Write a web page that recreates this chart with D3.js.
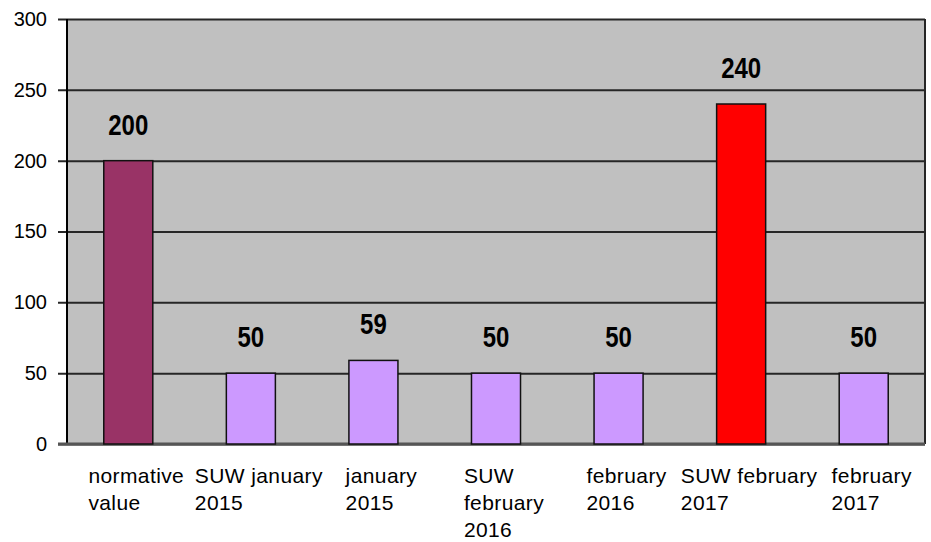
<!DOCTYPE html>
<html><head><meta charset="utf-8">
<script src="https://cdn.jsdelivr.net/npm/d3@7"></script>
<style>html,body{margin:0;padding:0;background:#fff;}svg{display:block;}</style>
</head><body>
<svg id="chart" width="931" height="542"></svg>
<script>
const categories = ["normative\nvalue","SUW january\n2015","january\n2015","SUW\nfebruary\n2016","february\n2016","SUW february\n2017","february\n2017"];
const values = [200, 50, 59, 50, 50, 240, 50];
const barColors = ["#993366","#cc99ff","#cc99ff","#cc99ff","#cc99ff","#ff0000","#cc99ff"];
const yTicks = [0, 50, 100, 150, 200, 250, 300];

const svg = d3.select("#chart");
const m = {left: 67, right: 6, top: 19, bottom: 98};
const W = 931, H = 542;
const x = d3.scaleBand().domain(categories).range([m.left, W - m.right]).paddingInner(0.6).paddingOuter(0.3);
const y = d3.scaleLinear().domain([0, 300]).range([H - m.bottom, m.top]);

// plot background
svg.append("rect").attr("x", m.left).attr("y", m.top)
  .attr("width", W - m.right - m.left).attr("height", y(0) - m.top)
  .attr("fill", "#c0c0c0");

// gridlines + ticks
const yAxis = d3.axisLeft(y).tickValues(yTicks).tickSize(-(W - m.right - m.left)).tickPadding(20).tickFormat(d3.format("d"));
const ga = svg.append("g").attr("transform", `translate(${m.left},0)`).call(yAxis);
ga.select(".domain").remove();
ga.selectAll(".tick line").attr("x1", -9).attr("stroke", "#262626").attr("stroke-width", 2);
ga.selectAll(".tick text").attr("font-family", "Liberation Sans, Arial, sans-serif")
  .attr("font-size", 20).attr("fill", "#000").attr("x", -20);

// border
svg.append("line").attr("x1", W - m.right).attr("x2", W - m.right).attr("y1", m.top).attr("y2", y(0))
  .attr("stroke", "#262626").attr("stroke-width", 2);
svg.append("line").attr("x1", m.left).attr("x2", m.left).attr("y1", m.top).attr("y2", y(0))
  .attr("stroke", "#000").attr("stroke-width", 2);
svg.append("line").attr("x1", m.left - 9).attr("x2", W - m.right).attr("y1", y(0)).attr("y2", y(0))
  .attr("stroke", "#555").attr("stroke-width", 3);

// bars
svg.append("g").selectAll("rect").data(values).join("rect")
  .attr("x", (d, i) => x(categories[i]))
  .attr("y", d => y(d))
  .attr("width", x.bandwidth())
  .attr("height", d => y(0) - y(d))
  .attr("fill", (d, i) => barColors[i])
  .attr("stroke", "#111").attr("stroke-width", 1.5);

// value labels
svg.append("g").selectAll("text").data(values).join("text")
  .attr("transform", (d, i) => `translate(${x(categories[i]) + x.bandwidth() / 2},${y(d) - 26}) scale(1,1.22)`)
  .attr("text-anchor", "middle")
  .attr("font-family", "Liberation Sans, Arial, sans-serif")
  .attr("font-weight", "bold").attr("font-size", 24).attr("fill", "#000")
  .text(d => d);

// category labels
const lab = svg.append("g");
categories.forEach((c, i) => {
  const lines = c.split("\n");
  const t = lab.append("text")
    .attr("font-family", "Liberation Sans, Arial, sans-serif")
    .attr("font-size", 21).attr("fill", "#000").attr("letter-spacing", 0.4);
  lines.forEach((l, j) => {
    t.append("tspan").attr("x", 0).attr("y", 483 + j * 27).text(l);
  });
  let maxW = 0;
  t.selectAll("tspan").each(function () { maxW = Math.max(maxW, this.getComputedTextLength()); });
  const cx = x(c) + x.bandwidth() / 2;
  t.attr("transform", `translate(${cx - maxW / 2 + 8},0)`);
});
</script>
</body></html>
